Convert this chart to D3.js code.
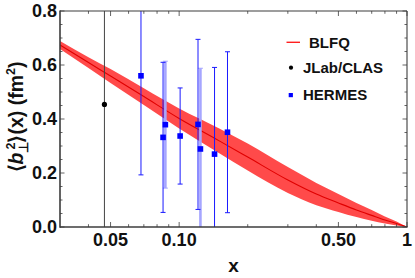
<!DOCTYPE html>
<html><head><meta charset="utf-8">
<script src="https://cdn.jsdelivr.net/npm/d3@7"></script>
<style>
html,body{margin:0;padding:0;background:#fff;}
svg{display:block;font-family:"Liberation Sans",Arial,sans-serif;font-weight:bold;}
</style></head>
<body>
<svg id="c" width="415" height="278"></svg>
<script>
// ---- data ----
const bandX     = [0.03, 0.04, 0.05, 0.07, 0.1, 0.15, 0.2, 0.3, 0.4, 0.5, 0.6, 0.7, 0.8, 0.9, 1.0];
const bandMid   = [0.674,0.609,0.559,0.483,0.402,0.319,0.259,0.174,0.122,0.089,0.063,0.043,0.026,0.013,0];
const bandUpper = [0.689,0.629,0.585,0.514,0.439,0.365,0.309,0.222,0.163,0.122,0.089,0.063,0.039,0.020,0];
const bandLower = [0.659,0.589,0.533,0.452,0.365,0.273,0.209,0.126,0.081,0.056,0.037,0.023,0.013,0.006,0];

const jlabX = [0.047], jlabY = [0.454], jlabErr = [0.56];

const hermesX   = [0.068, 0.085, 0.101, 0.121, 0.143, 0.163];
const hermesY   = [0.560, 0.332, 0.337, 0.380, 0.270, 0.351];
const hermesErr = [0.367, 0.278, 0.178, 0.315, 0.321, 0.298];
// second (overlapping) HERMES set
const hermes2X   = [0.087, 0.124];
const hermes2Y   = [0.379, 0.289];
const hermes2Err = [0.235, 0.299];

const xMajor = [0.05, 0.1, 0.5, 1];
const xMajorLabels = ["0.05", "0.10", "0.50", "1"];
const xMinor = [0.04, 0.06, 0.07, 0.08, 0.09, 0.2, 0.3, 0.4, 0.6, 0.7, 0.8, 0.9];
const yMajor = [0, 0.2, 0.4, 0.6, 0.8];
const yMajorLabels = ["0.0", "0.2", "0.4", "0.6", "0.8"];
const yMinor = [0.05,0.1,0.15,0.25,0.3,0.35,0.45,0.5,0.55,0.65,0.7,0.75];
const legendLabels = ["BLFQ", "JLab/CLAS", "HERMES"];

// ---- layout ----
const L = 60, R = 407, T = 11, B = 227;
const x = d3.scaleLog().domain([0.03, 1]).range([L, R]);
const y = d3.scaleLinear().domain([0, 0.8]).range([B, T]);
const svg = d3.select("#c");
const frameCol = "#3c3c3c";

svg.append("defs").append("clipPath").attr("id","clip")
  .append("rect").attr("x",L).attr("y",T).attr("width",R-L).attr("height",B-T);
const plot = svg.append("g").attr("clip-path","url(#clip)");

// band
const band = bandX.map((v,i)=>({x:v, lo:bandLower[i], hi:bandUpper[i], m:bandMid[i]}));
plot.append("path").datum(band)
  .attr("d", d3.area().x(d=>x(d.x)).y0(d=>y(d.lo)).y1(d=>y(d.hi)).curve(d3.curveMonotoneX))
  .attr("fill","#ff4a4a");
plot.append("path").datum(band)
  .attr("d", d3.line().x(d=>x(d.x)).y(d=>y(d.m)).curve(d3.curveMonotoneX))
  .attr("fill","none").attr("stroke","#e00000").attr("stroke-width",1.1);

// JLab
jlabX.forEach((xv,i)=>{
  plot.append("line").attr("x1",x(xv)).attr("x2",x(xv))
    .attr("y1",y(jlabY[i]+jlabErr[i])).attr("y2",y(jlabY[i]-jlabErr[i]))
    .attr("stroke","#444").attr("stroke-width",1);
  plot.append("circle").attr("cx",x(xv)).attr("cy",y(jlabY[i])).attr("r",2.6).attr("fill","#000");
});

function errBars(xs, ys, es, col, w){
  xs.forEach((xv,i)=>{
    const px = x(xv), top = y(ys[i]+es[i]), bot = y(ys[i]-es[i]);
    plot.append("line").attr("x1",px).attr("x2",px).attr("y1",top).attr("y2",bot)
      .attr("stroke",col).attr("stroke-width",w);
    [top,bot].forEach(yy=>plot.append("line").attr("x1",px-2.5).attr("x2",px+2.5)
      .attr("y1",yy).attr("y2",yy).attr("stroke",col).attr("stroke-width",1));
  });
}
function squares(xs, ys){
  xs.forEach((xv,i)=>{
    plot.append("rect").attr("x",x(xv)-2.8).attr("y",y(ys[i])-2.8)
      .attr("width",5.6).attr("height",5.6).attr("fill","#0000ff");
  });
}
errBars(hermes2X, hermes2Y, hermes2Err, "#a6a6ff", 2.6);
errBars(hermesX, hermesY, hermesErr, "#1a1aff", 1);
squares(hermes2X, hermes2Y);
squares(hermesX, hermesY);

// frame
const fr = svg.append("g");
fr.append("line").attr("x1",L).attr("x2",R).attr("y1",T).attr("y2",T).attr("stroke",frameCol).attr("stroke-width",1.1);
fr.append("line").attr("x1",R).attr("x2",R).attr("y1",T).attr("y2",B).attr("stroke",frameCol).attr("stroke-width",1.1);
fr.append("line").attr("x1",L).attr("x2",R+0.6).attr("y1",B).attr("y2",B).attr("stroke",frameCol).attr("stroke-width",1.6);
fr.append("line").attr("x1",L).attr("x2",L).attr("y1",T-0.5).attr("y2",B+0.8).attr("stroke",frameCol).attr("stroke-width",1.6);

// ticks
function xt(vals, len){
  vals.forEach(v=>{
    const px = x(v);
    fr.append("line").attr("x1",px).attr("x2",px).attr("y1",B).attr("y2",B-len).attr("stroke",frameCol).attr("stroke-width",0.8);
    fr.append("line").attr("x1",px).attr("x2",px).attr("y1",T).attr("y2",T+len).attr("stroke",frameCol).attr("stroke-width",0.8);
  });
}
function yt(vals, len){
  vals.forEach(v=>{
    const py = y(v);
    fr.append("line").attr("x1",L).attr("x2",L+len).attr("y1",py).attr("y2",py).attr("stroke",frameCol).attr("stroke-width",0.8);
    fr.append("line").attr("x1",R).attr("x2",R-len).attr("y1",py).attr("y2",py).attr("stroke",frameCol).attr("stroke-width",0.8);
  });
}
xt(xMajor, 5); xt(xMinor, 2.8);
yt(yMajor, 4.5); yt(yMinor, 2.5);

// tick labels
xMajor.forEach((v,i)=>{
  svg.append("text").attr("x",x(v)).attr("y",246).attr("text-anchor","middle")
    .attr("font-size",18).attr("fill","#111").text(xMajorLabels[i]);
});
yMajor.forEach((v,i)=>{
  svg.append("text").attr("x",57).attr("y",y(v)+6.4).attr("text-anchor","end")
    .attr("font-size",18).attr("fill","#111").text(yMajorLabels[i]);
});

// axis labels
svg.append("text").attr("x",(L+R)/2).attr("y",271.5).attr("text-anchor","middle")
  .attr("font-size",19).attr("fill","#111").text("x");
const yl = svg.append("text").attr("transform","translate(23,117) rotate(-90)")
  .attr("text-anchor","middle").attr("font-size",19.5).attr("fill","#111");
yl.append("tspan").text("\u27E8");
yl.append("tspan").attr("font-style","italic").text("b");
yl.append("tspan").attr("font-size",12.5).attr("dy",4.5).text("\u22A5");
yl.append("tspan").attr("font-size",12.5).attr("dx",-8).attr("dy",-12.5).text("2");
yl.append("tspan").attr("dy",8).text("\u27E9(x) (fm");
yl.append("tspan").attr("font-size",12.5).attr("dy",-8).text("2");
yl.append("tspan").attr("dy",8).text(")");

// legend
const lg = svg.append("g").attr("font-size",15).attr("fill","#111");
lg.append("line").attr("x1",286.5).attr("x2",300).attr("y1",42.3).attr("y2",42.3).attr("stroke","#ff2020").attr("stroke-width",1.4);
lg.append("text").attr("x",309).attr("y",47.8).text(legendLabels[0]);
lg.append("circle").attr("cx",291).attr("cy",67.7).attr("r",2.1).attr("fill","#000");
lg.append("text").attr("x",303).attr("y",72.8).text(legendLabels[1]);
lg.append("rect").attr("x",288.7).attr("y",93).attr("width",4.2).attr("height",4.2).attr("fill","#0000ff");
lg.append("text").attr("x",303).attr("y",100).text(legendLabels[2]);
</script>
</body></html>
